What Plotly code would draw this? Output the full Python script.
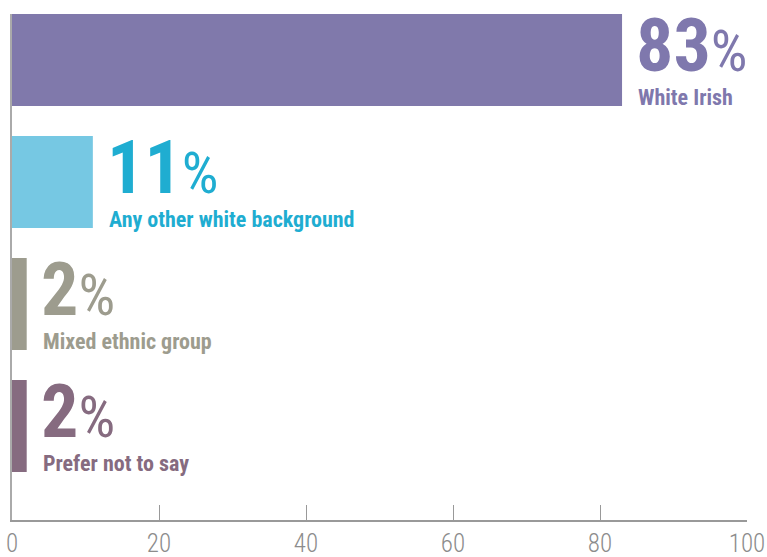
import plotly.graph_objects as go

categories = ["White Irish", "Any other white background", "Mixed ethnic group", "Prefer not to say"]
values = [83, 11, 2, 2]
bar_colors = ["#8079ab", "#76c8e3", "#9d9c8e", "#866b80"]
text_colors = ["#7f78ad", "#1fadd1", "#9d9c8e", "#866b80"]
tick_vals = [0, 20, 40, 60, 80, 100]

FONT = "Roboto Condensed, sans-serif"

fig = go.Figure()
fig.add_trace(go.Bar(
    x=values, y=categories, orientation="h",
    marker=dict(color=bar_colors, line=dict(width=0)),
    width=0.755, hoverinfo="skip",
))

annotations = []
for cat, val, col in zip(categories, values, text_colors):
    annotations.append(dict(
        x=val, y=cat, xref="x", yref="y", xanchor="left", yanchor="middle",
        xshift=12, yshift=15,
        text=f"<b>{val}</b><span style=\"font-size:58px\">%</span>", showarrow=False,
        font=dict(family=FONT, size=74, color=col, weight=400),
    ))
    annotations.append(dict(
        x=val, y=cat, xref="x", yref="y", xanchor="left", yanchor="middle",
        xshift=14, yshift=-37,
        text=f"<b>{cat}</b>", showarrow=False,
        font=dict(family=FONT, size=22, color=col),
    ))

fig.update_layout(
    width=767, height=557,
    margin=dict(l=12, r=20, t=14, b=37),
    paper_bgcolor="white", plot_bgcolor="white",
    showlegend=False,
    annotations=annotations,
    xaxis=dict(
        range=[0, 100], tickvals=tick_vals, showgrid=False, zeroline=False,
        showline=True, linecolor="#999999", linewidth=1.5,
        ticks="inside", ticklen=15, tickwidth=1.2, tickcolor="#999999",
        tickfont=dict(family=FONT, size=25, color="#8c8c8c", weight=300),
        automargin=False, ticklabeloverflow="allow", fixedrange=True,
    ),
    yaxis=dict(
        categoryorder="array", categoryarray=categories,
        range=[3.77, -0.377], showticklabels=False, showgrid=False,
        zeroline=False, showline=True, linecolor="#aaaaaa", linewidth=1.5,
        ticks="", automargin=False, fixedrange=True,
    ),
)

fig.write_html("out.html", config={"displayModeBar": False},
               post_script="document.body.style.margin='0';")
